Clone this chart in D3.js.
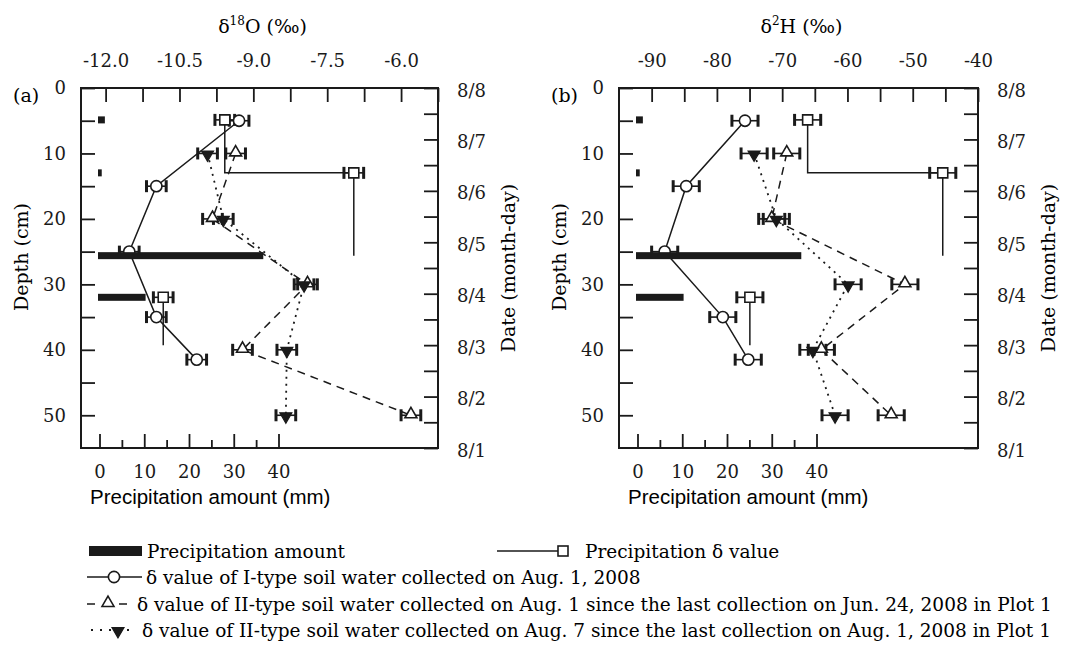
<!DOCTYPE html>
<html>
<head>
<meta charset="utf-8">
<script src="https://cdn.jsdelivr.net/npm/d3@7"></script>
<style>
body { margin: 0; background: #fff; }
</style>
</head>
<body>
<div id="chart"></div>
<script>
var width = 1067;
var height = 652;

// ---- data ----
// I-type soil water, Aug. 1 (open circles, solid line)
var depthI = [5, 15, 25, 35, 41.5];
var o18TypeI = [-9.29, -10.97, -11.52, -10.97, -10.15];
var h2TypeI = [-75.7, -84.7, -88.0, -79.1, -75.2];

// II-type soil water (triangles)
var depthII = [10, 20, 30, 40, 50];
var o18Aug1 = [-9.36, -9.83, -7.90, -9.22, -5.80];
var h2Aug1 = [-69.3, -71.6, -51.2, -64.0, -53.3];
var o18Aug7 = [-9.93, -9.61, -7.97, -8.32, -8.34];
var h2Aug7 = [-74.3, -70.9, -59.9, -65.3, -61.9];

// precipitation events (day of August), amount and isotope value
var rainDay = [7.38, 6.35, 4.74, 3.93];
var rainAmount = [1.2, 0.5, 36.6, 10.3];
var rainO18 = [-9.58, -6.96, null, -10.83];
var rainH2 = [-66.1, -45.4, null, -74.95];
var rainHoldTo = [6.35, 4.74, null, 3.0];

// analytical error (half width of error bars)
var errO18 = 0.2;
var errH2 = 2.0;

// tick labels
var o18Labels = [-12.0, -10.5, -9.0, -7.5, -6.0];
var h2Labels = [-90, -80, -70, -60, -50, -40];
var depthLabels = [0, 10, 20, 30, 40, 50];
var rainLabels = [0, 10, 20, 30, 40];
var dateLabels = [8, 7, 6, 5, 4, 3, 2, 1];

var serif = "'DejaVu Serif', serif";
var top0 = 88, bottom0 = 448;
var ink = "#1a1a1a";

var svg = d3.select("#chart")
    .append("svg")
    .attr("width", width)
    .attr("height", height)
    .style("font-family", serif);

function drawPanel(p) {
    var g = svg.append("g");

    var x = d3.scaleLinear().domain(p.domain).range([p.left, p.right]);
    var xRain = d3.scaleLinear().domain([0, 40]).range([p.left + 18.5, p.left + 18.5 + 179]);
    var yDepth = d3.scaleLinear().domain([0, 55]).range([top0, bottom0]);
    var yDate = d3.scaleLinear().domain([8, 1]).range([top0, bottom0]);

    var line = d3.line().x(d => d[0]).y(d => d[1]);

    // dotted: Aug 7
    g.append("path")
        .attr("d", line(depthII.map((d, i) => [x(p.aug7[i]), yDepth(d)])))
        .attr("fill", "none").attr("stroke", ink).attr("stroke-width", 1.8)
        .attr("stroke-dasharray", "2,5");
    // dashed: Aug 1
    g.append("path")
        .attr("d", line(depthII.map((d, i) => [x(p.aug1[i]), yDepth(d)])))
        .attr("fill", "none").attr("stroke", ink).attr("stroke-width", 1.5)
        .attr("stroke-dasharray", "8,6");
    // solid: I-type
    g.append("path")
        .attr("d", line(depthI.map((d, i) => [x(p.typeI[i]), yDepth(d)])))
        .attr("fill", "none").attr("stroke", ink).attr("stroke-width", 1.5);

    // precipitation delta as step line
    rainDay.forEach(function(day, i) {
        if (p.rain[i] == null) return;
        var pts = [[x(p.rain[i]), yDate(day)], [x(p.rain[i]), yDate(rainHoldTo[i])]];
        if (p.rain[i + 1] != null && rainDay[i + 1] === rainHoldTo[i]) {
            pts.push([x(p.rain[i + 1]), yDate(rainHoldTo[i])]);
        }
        g.append("path").attr("d", line(pts))
            .attr("fill", "none").attr("stroke", ink).attr("stroke-width", 1.5);
    });

    // points for markers + error bars
    var pts = [];
    depthI.forEach((d, i) => pts.push({v: p.typeI[i], y: yDepth(d), m: "circle"}));
    rainDay.forEach((d, i) => { if (p.rain[i] != null) pts.push({v: p.rain[i], y: yDate(d), m: "square"}); });
    depthII.forEach((d, i) => pts.push({v: p.aug1[i], y: yDepth(d), m: "up"}));
    depthII.forEach((d, i) => pts.push({v: p.aug7[i], y: yDepth(d), m: "down"}));

    var eb = g.selectAll(".eb").data(pts).enter().append("g").attr("class", "eb");
    eb.append("line")
        .attr("x1", d => x(d.v - p.err)).attr("x2", d => x(d.v + p.err))
        .attr("y1", d => d.y).attr("y2", d => d.y)
        .attr("stroke", ink).attr("stroke-width", 1.6);
    [-1, 1].forEach(function(s) {
        eb.append("line")
            .attr("x1", d => x(d.v + s * p.err)).attr("x2", d => x(d.v + s * p.err))
            .attr("y1", d => d.y - 6).attr("y2", d => d.y + 6)
            .attr("stroke", ink).attr("stroke-width", 3);
    });

    var tri = d3.symbol().type(d3.symbolTriangle).size(62);
    var sq = d3.symbol().type(d3.symbolSquare).size(100);
    pts.forEach(function(d) {
        if (d.m === "circle") {
            g.append("circle").attr("cx", x(d.v)).attr("cy", d.y).attr("r", 5.6)
                .attr("fill", "#fff").attr("stroke", ink).attr("stroke-width", 1.6);
        } else if (d.m === "square") {
            g.append("path").attr("d", sq()).attr("transform", "translate(" + x(d.v) + "," + d.y + ")")
                .attr("fill", "#fff").attr("stroke", ink).attr("stroke-width", 1.6);
        } else if (d.m === "up") {
            g.append("path").attr("d", tri()).attr("transform", "translate(" + x(d.v) + "," + (d.y - 1) + ")")
                .attr("fill", "#fff").attr("stroke", ink).attr("stroke-width", 1.6);
        } else {
            g.append("path").attr("d", tri()).attr("transform", "translate(" + x(d.v) + "," + (d.y + 1) + ") rotate(180)")
                .attr("fill", ink).attr("stroke", ink).attr("stroke-width", 1.2);
        }
    });

    // precipitation amount bars
    g.selectAll(".bar").data(rainAmount).enter().append("rect")
        .attr("class", "bar")
        .attr("x", xRain(0) - 1.5)
        .attr("y", (d, i) => yDate(rainDay[i]) - 3.5)
        .attr("width", d => xRain(d) - xRain(0) + 1.5)
        .attr("height", 7)
        .attr("fill", ink);

    // axes
    function styleAxis(a) {
        a.attr("font-family", serif).attr("font-size", 18);
        a.select(".domain").remove();
        a.selectAll(".tick line").attr("stroke", ink).attr("stroke-width", 1.8);
        a.selectAll("text").attr("fill", ink);
    }

    var topTicks = d3.range(p.tickStart, p.domain[1] + 0.01, p.tickStep);
    var topAxis = d3.axisTop(x).tickValues(topTicks).tickSize(-14).tickPadding(21)
        .tickFormat(d => p.labels.some(l => Math.abs(l - d) < 1e-6) ? p.fmt(d) : "");
    g.append("g").attr("transform", "translate(0," + top0 + ")").call(topAxis).call(styleAxis);

    var leftAxis = d3.axisLeft(yDepth).tickValues(d3.range(0, 55, 5)).tickSize(-14).tickPadding(15)
        .tickFormat(d => depthLabels.indexOf(d) >= 0 ? d : "");
    g.append("g").attr("transform", "translate(" + p.left + ",0)").call(leftAxis).call(styleAxis);

    var rightAxis = d3.axisRight(yDate).tickValues(d3.range(1, 8.01, 0.5)).tickSize(-14).tickPadding(19)
        .tickFormat(d => dateLabels.indexOf(d) >= 0 ? "8/" + d : "");
    var ra = g.append("g").attr("transform", "translate(" + p.right + ",0)").call(rightAxis).call(styleAxis);
    ra.selectAll("text").attr("dy", "0.45em");

    var minorAxis = d3.axisBottom(xRain).tickValues([5, 15, 25, 35]).tickSize(-8).tickFormat("");
    g.append("g").attr("transform", "translate(0," + bottom0 + ")").call(minorAxis).call(styleAxis);
    var bottomAxis = d3.axisBottom(xRain).tickValues(rainLabels).tickSize(-14).tickPadding(17);
    g.append("g").attr("transform", "translate(0," + bottom0 + ")").call(bottomAxis).call(styleAxis);

    // frame
    g.append("rect").attr("x", p.left).attr("y", top0)
        .attr("width", p.right - p.left).attr("height", bottom0 - top0)
        .attr("fill", "none").attr("stroke", ink).attr("stroke-width", 2);

    // titles
    var t = g.append("text").attr("x", (p.left + p.right) / 2 + 3).attr("y", 33)
        .attr("text-anchor", "middle").attr("font-size", 19);
    t.append("tspan").text("δ");
    t.append("tspan").text(p.sup).attr("font-size", 12).attr("dy", -8);
    t.append("tspan").text(p.elem + " (‰)").attr("dy", 8);

    g.append("text").attr("x", p.left - 68).attr("y", 102).attr("font-size", 19).text(p.tag);

    g.append("text").attr("transform", "translate(" + (p.left - 53) + "," + 257 + ") rotate(-90)")
        .attr("text-anchor", "middle").attr("font-size", 19).text("Depth (cm)");

    g.append("text").attr("transform", "translate(" + (p.right + 77) + "," + 268 + ") rotate(-90)")
        .attr("text-anchor", "middle").attr("font-size", 19).text("Date (month-day)");

    g.append("text").attr("x", p.left + 9).attr("y", 504)
        .style("font-family", "'Liberation Sans', Arial, sans-serif").attr("font-size", 20.5)
        .text("Precipitation amount (mm)");
}

drawPanel({
    left: 81, right: 438, domain: [-12.5, -5.25], tickStart: -12, tickStep: 0.75,
    labels: o18Labels, fmt: d => d.toFixed(1), err: errO18,
    typeI: o18TypeI, aug1: o18Aug1, aug7: o18Aug7, rain: rainO18,
    sup: "18", elem: "O", tag: "(a)"
});
drawPanel({
    left: 619, right: 978, domain: [-95, -40], tickStart: -90, tickStep: 5,
    labels: h2Labels, fmt: d => d, err: errH2,
    typeI: h2TypeI, aug1: h2Aug1, aug7: h2Aug7, rain: rainH2,
    sup: "2", elem: "H", tag: "(b)"
});

// ---- legend ----
var lg = svg.append("g").attr("font-size", 18.5);
var rowY = [551, 577, 604, 630];

lg.append("rect").attr("x", 89).attr("y", rowY[0] - 5).attr("width", 53).attr("height", 10).attr("fill", ink);
lg.append("text").attr("x", 147).attr("y", rowY[0] + 7).text("Precipitation amount");

lg.append("line").attr("x1", 497).attr("x2", 558).attr("y1", rowY[0]).attr("y2", rowY[0]).attr("stroke", ink).attr("stroke-width", 1.5);
lg.append("rect").attr("x", 558).attr("y", rowY[0] - 5).attr("width", 10).attr("height", 10)
    .attr("fill", "#fff").attr("stroke", ink).attr("stroke-width", 1.6);
lg.append("text").attr("x", 585).attr("y", rowY[0] + 7).text("Precipitation δ value");

lg.append("line").attr("x1", 87).attr("x2", 142).attr("y1", rowY[1]).attr("y2", rowY[1]).attr("stroke", ink).attr("stroke-width", 1.5);
lg.append("circle").attr("cx", 114).attr("cy", rowY[1]).attr("r", 5.6).attr("fill", "#fff").attr("stroke", ink).attr("stroke-width", 1.6);
lg.append("text").attr("x", 146).attr("y", rowY[1] + 7)
    .text("δ value of I-type soil water collected on Aug. 1, 2008");

lg.append("line").attr("x1", 87).attr("x2", 128).attr("y1", rowY[2]).attr("y2", rowY[2]).attr("stroke", ink).attr("stroke-width", 1.5)
    .attr("stroke-dasharray", "8,8");
lg.append("path").attr("d", d3.symbol().type(d3.symbolTriangle).size(62)()).attr("transform", "translate(108," + (rowY[2] - 1) + ")")
    .attr("fill", "#fff").attr("stroke", ink).attr("stroke-width", 1.6);
lg.append("text").attr("x", 137).attr("y", rowY[2] + 7)
    .text("δ value of II-type soil water collected on Aug. 1 since the last collection on Jun. 24, 2008 in Plot 1");

lg.append("line").attr("x1", 91).attr("x2", 134).attr("y1", rowY[3]).attr("y2", rowY[3]).attr("stroke", ink).attr("stroke-width", 1.8)
    .attr("stroke-dasharray", "2,7");
lg.append("path").attr("d", d3.symbol().type(d3.symbolTriangle).size(62)()).attr("transform", "translate(118," + (rowY[3] + 1) + ") rotate(180)")
    .attr("fill", ink).attr("stroke", ink).attr("stroke-width", 1.2);
lg.append("text").attr("x", 142).attr("y", rowY[3] + 7)
    .text("δ value of II-type soil water collected on Aug. 7 since the last collection on Aug. 1, 2008 in Plot 1");
</script>
</body>
</html>
